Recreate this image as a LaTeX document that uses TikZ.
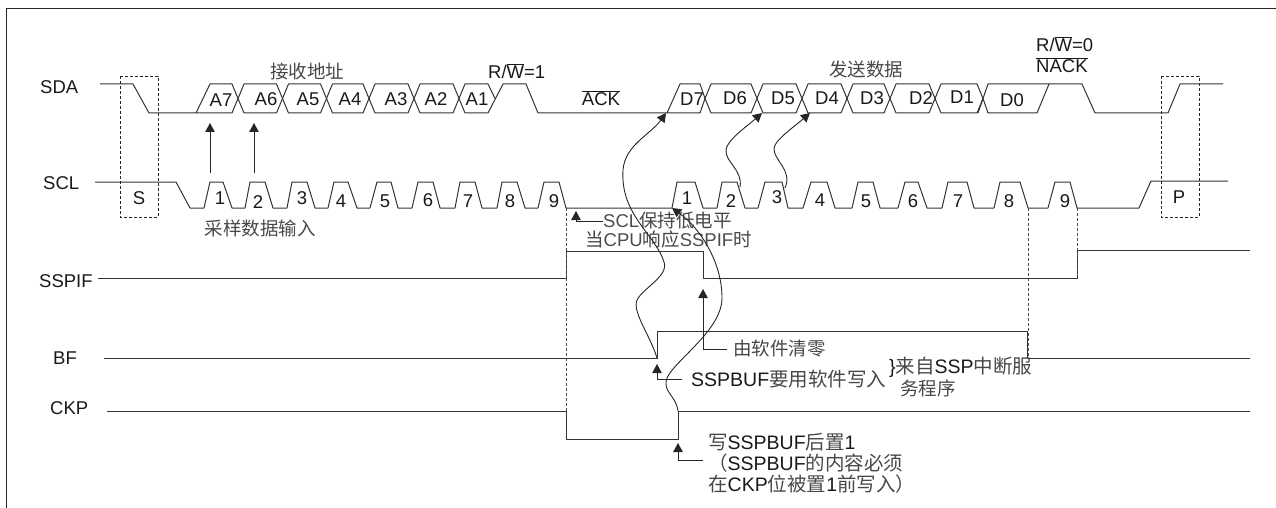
\documentclass[tikz,border=0pt]{standalone}
\usepackage{fontspec}
\setmainfont{Liberation Sans}
\newfontfamily\cjk{Noto Sans CJK SC}
\usepackage{tikz}
\usetikzlibrary{arrows.meta,calc}
\newcommand{\zh}[1]{{\cjk\color{black!72}#1}}
\newcommand{\nbar}{R/$\overline{\mbox{W}}$}

\begin{document}
\begin{tikzpicture}[x=1pt,y=-1pt,
      wave/.style={draw=black!80,line width=1pt,line join=round},
      box/.style={draw=black!85,line width=0.9pt,densely dashed},
      guide/.style={draw=black!70,line width=0.8pt,densely dashed},
      note/.style={-{Triangle[length=9pt,width=9.5pt]},draw=black!85,line width=0.9pt},
      lbl/.style={inner sep=0pt,font=\fontsize{18.5}{22}\selectfont,text=black!90},
      biglbl/.style={lbl,font=\fontsize{19.5}{23}\selectfont}]
    \useasboundingbox (0,0) rectangle (1276,508);
    \draw[black!85,line width=1pt] (1276,9) -- (6,9) -- (6,508);

    % signal names
    \node[lbl,anchor=west] (sda) at (40,87) {SDA};
    \node[lbl,anchor=west] (scl) at (43,183) {SCL};
    \node[lbl,anchor=west] (sspif) at (39,281) {SSPIF};
    \node[lbl,anchor=west] (bf) at (53,358) {BF};
    \node[lbl,anchor=west] (ckp) at (50,408) {CKP};

    % SDA line
    \draw[wave] (100,84) -- (133,84) -- (149,113) -- (232,113) -- (238,98.5) -- (232,84)
      -- (210,84) -- (196,113);
    \draw[wave] (488,84) -- (495,98.5);
    \draw[wave] (465,113) -- (488,113) -- (503,84) -- (526,84) -- (538,113) -- (700,113)
      -- (705,98.5) -- (700,84) -- (680,84) -- (667,113);
    \draw[wave] (978,113) -- (983,98.5);
    \draw[wave] (983,98.5) -- (988,84) -- (1049,84) -- (1037,113) -- (988,113) -- cycle;
    \draw[wave] (1049,84) -- (1082,84) -- (1095,113) -- (1168,113) -- (1180,84) -- (1223,84);
    \foreach \xl/\xr in {238/282.5,282.5/326.5,326.5/369,369/414,414/459,
                         705/757,757/802,802/847,847/890,890/935,935/983} {
      \draw[wave] (\xl,98.5) -- (\xl+6,84) -- (\xr-6,84) -- (\xr,98.5) -- (\xr-6,113) -- (\xl+6,113) -- cycle;
    }
    \draw[wave] (459,98.5) -- (465,84) -- (488,84);
    \draw[wave] (459,98.5) -- (465,113);
    \foreach \txt/\tx/\ty in {A7/221/100,A6/266/99,A5/308/99,A4/350/99,A3/396/99,A2/436/99,A1/477/99,
                              D7/692/99,D6/735/98,D5/783/98,D4/827/98,D3/872/98,D2/921/98,D1/962/97,D0/1012/100} {
      \node[lbl] (bit\txt) at (\tx,\ty) {\txt};
    }

    % SCL line
    \draw[wave] (95,182) -- (176,182) -- (190,208) -- (204,208);
    \foreach \a/\b/\c/\d/\e/\num/\tx/\ty/\tag in {
        204/210/223/232/245/1/220/198/a,245/250/265/273/287/2/258/202/b,
        287/292/307/315/328/3/302/198/c,328/334/348/357/370/4/341/201/d,
        370/377/391/398/412/5/385/201/e,412/418/433/440/455/6/428/200/f,
        455/460/475/482/497/7/468/201/g,497/502/517/525/538/8/510/201/h,
        538/544/559/566/672/9/554/201/i,672/677/695/703/717/1/687/198/j,
        717/722/737/745/758/2/731/201/k,758/765/782/788/803/3/777/197/l,
        803/811/827/835/852/4/820/200/m,852/858/873/880/898/5/866/201/n,
        898/905/918/927/942/6/913/201/o,942/948/967/974/994/7/958/201/p,
        994/1000/1020/1028/1048/8/1009/201/q,1048/1055/1070/1077/1139/9/1065/201/r} {
      \draw[wave] (\a,208) -- (\b,182) -- (\c,182) -- (\d,208) -- (\e,208);
      \node[lbl] (clk\tag) at (\tx,\ty) {\num};
    }
    \draw[wave] (1139,208) -- (1151,181) -- (1228,181);

    % flags
    \draw[wave] (98,278.5) -- (566,278.5) -- (566,251) -- (703,251) -- (703,278.5) -- (1077,278.5)
      -- (1077,250) -- (1250,250);
    \draw[wave] (104,358.5) -- (657,358.5) -- (657,331) -- (1027,331) -- (1027,358.5) -- (1250,358.5);
    \draw[wave] (107,411) -- (566,411) -- (566,439) -- (678,439) -- (678,411) -- (1250,411);

    % dashed marks
    \draw[box] (120,76) rectangle (158,217);
    \draw[box] (1161,76) rectangle (1199,217);
    \draw[guide] (566,208) -- (566,411);
    \draw[guide] (1028,208) -- (1028,358);
    \draw[guide] (1077,208) -- (1077,278);
    \node[lbl] (start) at (139,198) {S};
    \node[lbl] (stop) at (1179,197) {P};

    % texts over the lines
    \node[lbl] (recv) at (307,71) {\zh{接收地址}};
    \node[lbl] (send) at (866,69) {\zh{发送数据}};
    \node[lbl] (sample) at (260,228) {\zh{采样数据输入}};
    \node[lbl,anchor=west] (rw1) at (488,71) {\nbar=1};
    \node[lbl] (ack) at (601,98) {$\overline{\mbox{ACK}}$};
    \node[lbl,anchor=west] (rw0) at (1036,44) {\nbar=0};
    \node[lbl,anchor=west] (nack) at (1036,65) {$\overline{\mbox{NACK}}$};
    \node[lbl,anchor=west,text=black!70] (hold) at (603,221) {SCL\zh{保持低电平}};
    \node[lbl,anchor=west,text=black!70] (ans) at (585,239) {\zh{当}CPU\zh{响应}SSPIF\zh{时}};
    \node[lbl,anchor=west] (clr) at (733,349) {\zh{由软件清零}};
    \node[biglbl,anchor=west] (wbuf) at (691,379) {SSPBUF\zh{要用软件写入}};
    \node[biglbl,anchor=west] (isr1) at (889,367) {\}\zh{来自}SSP\zh{中断服}};
    \node[lbl,anchor=west] (isr2) at (900,388) {\zh{务程序}};
    \node[biglbl,anchor=west] (ck1) at (708,442) {\zh{写}SSPBUF\zh{后置}1};
    \node[biglbl,anchor=west] (ck2) at (708,463) {\zh{（}SSPBUF\zh{的内容必须}};
    \node[biglbl,anchor=west] (ck3) at (708,484) {\zh{在}CKP\zh{位被置}1\zh{前写入）}};

    % arrows
    \coordinate (samp1) at (210,173);
    \coordinate (samp2) at (254,173);
    \coordinate (tipA) at (210,123);
    \coordinate (tipB) at (254,123);
    \draw[note] (samp1) -- (tipA);
    \draw[note] (samp2) -- (tipB);
    \coordinate (tipH) at (576,211);
    \coordinate (tipC) at (703,289);
    \coordinate (tipW) at (657,364);
    \coordinate (tipK) at (678,443);
    \draw[note] (hold.west) -| (tipH);
    \draw[note] ($(clr.west)+(-6,0)$) -| (tipC);
    \draw[note] ($(wbuf.west)+(-9,0)$) -| (tipW);
    \draw[note] ($(ck2.west)+(-5,-3)$) -| (tipK);

    % curved links
    \coordinate (bfup) at (657,358);
    \coordinate (ckup) at (678,411);
    \coordinate (d7in) at (666,113);
    \coordinate (sclin) at (672,208);
    \draw[note] (bfup) .. controls (650,335) and (632,312) .. (637,300)
      .. controls (643,288) and (669,276) .. (664,262)
      .. controls (656,235) and (620,215) .. (623,170)
      .. controls (625,145) and (650,135) .. (d7in);
    \draw[note] (ckup) .. controls (676,395) and (662,392) .. (667,378)
      .. controls (675,360) and (722,330) .. (722,298)
      .. controls (722,262) and (700,228) .. (sclin);
    \coordinate (p2) at (740,187);
    \coordinate (p3) at (785,188);
    \coordinate (d5in) at (762,113);
    \coordinate (d4in) at (810,113);
    \draw[note] (p2) .. controls (743,170) and (725,162) .. (726,150)
      .. controls (727,140) and (745,128) .. (d5in);
    \draw[note] (p3) .. controls (793,170) and (773,160) .. (774,148)
      .. controls (775,140) and (795,126) .. (d4in);
  \end{tikzpicture}
\end{document}
